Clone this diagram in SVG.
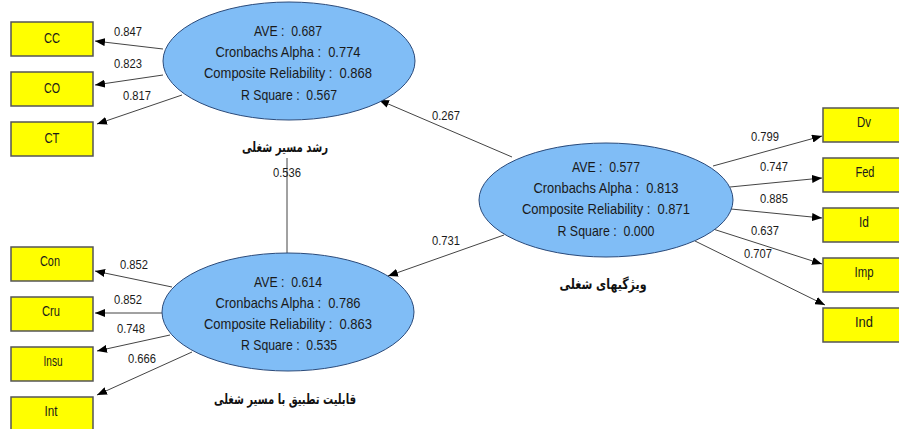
<svg xmlns="http://www.w3.org/2000/svg" width="899" height="429" viewBox="0 0 899 429">
<style>
.bg{fill:#ffffff}
.lv{fill:#80bdf6;stroke:#2a4a7a;stroke-width:1}
.box{fill:#ffff00;stroke:#555555;stroke-width:1.5}
.st{font-family:"Liberation Sans",Arial,sans-serif;font-size:15px;fill:#1a1a1a;text-anchor:middle;white-space:pre}
.bt{font-family:"Liberation Sans",Arial,sans-serif;font-size:14px;fill:#1a1a1a;text-anchor:middle}
.lb{font-family:"Liberation Sans",Arial,sans-serif;font-size:13px;fill:#1a1a1a;text-anchor:middle}
.ar{font-family:"DejaVu Sans",serif;font-size:14px;font-weight:bold;fill:#111;text-anchor:middle}
.cn{stroke:#444;stroke-width:1;fill:none}
</style>
<defs>
<marker id="ah" viewBox="0 0 10 8" refX="10" refY="4" markerWidth="10" markerHeight="8" markerUnits="userSpaceOnUse" orient="auto">
<path d="M0,0 L10,4 L0,8 z" fill="#000"/>
</marker>
</defs>
<rect class="bg" x="0" y="0" width="899" height="429"/>
<g id="connectors">
<line class="cn" x1="163" y1="49" x2="95" y2="41" marker-end="url(#ah)"/>
<line class="cn" x1="163" y1="75" x2="95" y2="85" marker-end="url(#ah)"/>
<line class="cn" x1="182" y1="95" x2="97" y2="124" marker-end="url(#ah)"/>
<line class="cn" x1="172" y1="287" x2="95" y2="271" marker-end="url(#ah)"/>
<line class="cn" x1="162" y1="313" x2="95" y2="313" marker-end="url(#ah)"/>
<line class="cn" x1="170" y1="335" x2="97" y2="351" marker-end="url(#ah)"/>
<line class="cn" x1="192" y1="352" x2="97" y2="395" marker-end="url(#ah)"/>
<line class="cn" x1="713" y1="166" x2="822" y2="136" marker-end="url(#ah)"/>
<line class="cn" x1="730" y1="187" x2="822" y2="178" marker-end="url(#ah)"/>
<line class="cn" x1="731" y1="209" x2="822" y2="218" marker-end="url(#ah)"/>
<line class="cn" x1="713" y1="229" x2="822" y2="264" marker-end="url(#ah)"/>
<line class="cn" x1="695" y1="241" x2="825" y2="305" marker-end="url(#ah)"/>
<line class="cn" x1="512" y1="157" x2="379" y2="100" marker-end="url(#ah)"/>
<line class="cn" x1="504" y1="235" x2="388" y2="276" marker-end="url(#ah)"/>
<line class="cn" x1="287" y1="158" x2="287" y2="254"/>
<text class="lb" x="128" y="36" textLength="28" lengthAdjust="spacingAndGlyphs">0.847</text>
<text class="lb" x="128" y="68" textLength="28" lengthAdjust="spacingAndGlyphs">0.823</text>
<text class="lb" x="137" y="100" textLength="28" lengthAdjust="spacingAndGlyphs">0.817</text>
<text class="lb" x="134" y="269" textLength="28" lengthAdjust="spacingAndGlyphs">0.852</text>
<text class="lb" x="128" y="304" textLength="28" lengthAdjust="spacingAndGlyphs">0.852</text>
<text class="lb" x="131" y="333" textLength="28" lengthAdjust="spacingAndGlyphs">0.748</text>
<text class="lb" x="142" y="363" textLength="28" lengthAdjust="spacingAndGlyphs">0.666</text>
<text class="lb" x="765" y="141" textLength="28" lengthAdjust="spacingAndGlyphs">0.799</text>
<text class="lb" x="774" y="171" textLength="28" lengthAdjust="spacingAndGlyphs">0.747</text>
<text class="lb" x="774" y="203" textLength="28" lengthAdjust="spacingAndGlyphs">0.885</text>
<text class="lb" x="765" y="235" textLength="28" lengthAdjust="spacingAndGlyphs">0.637</text>
<text class="lb" x="758" y="258" textLength="28" lengthAdjust="spacingAndGlyphs">0.707</text>
<text class="lb" x="446" y="120" textLength="28" lengthAdjust="spacingAndGlyphs">0.267</text>
<text class="lb" x="446" y="245" textLength="28" lengthAdjust="spacingAndGlyphs">0.731</text>
<text class="lb" x="287" y="177" textLength="28" lengthAdjust="spacingAndGlyphs">0.536</text>
</g>
<g id="lv-growth">
<ellipse class="lv" cx="289" cy="61" rx="126" ry="59"/>
<text class="st" x="288" y="36" textLength="68" lengthAdjust="spacingAndGlyphs">AVE :  0.687</text>
<text class="st" x="288" y="57" textLength="145" lengthAdjust="spacingAndGlyphs">Cronbachs Alpha :  0.774</text>
<text class="st" x="288" y="78" textLength="168" lengthAdjust="spacingAndGlyphs">Composite Reliability :  0.868</text>
<text class="st" x="289" y="100" textLength="96" lengthAdjust="spacingAndGlyphs">R Square :  0.567</text>
<text class="ar" x="285" y="152" textLength="86" lengthAdjust="spacingAndGlyphs">رشد مسیر شغلی</text>
</g>
<g id="lv-fit">
<ellipse class="lv" cx="288" cy="312" rx="126" ry="59"/>
<text class="st" x="288" y="287" textLength="68" lengthAdjust="spacingAndGlyphs">AVE :  0.614</text>
<text class="st" x="288" y="308" textLength="145" lengthAdjust="spacingAndGlyphs">Cronbachs Alpha :  0.786</text>
<text class="st" x="288" y="329" textLength="168" lengthAdjust="spacingAndGlyphs">Composite Reliability :  0.863</text>
<text class="st" x="289" y="350" textLength="96" lengthAdjust="spacingAndGlyphs">R Square :  0.535</text>
<text class="ar" x="285" y="404" textLength="142" lengthAdjust="spacingAndGlyphs">قابلیت تطبیق با مسیر شغلی</text>
</g>
<g id="lv-job">
<ellipse class="lv" cx="606" cy="200" rx="127" ry="57"/>
<text class="st" x="606" y="172" textLength="68" lengthAdjust="spacingAndGlyphs">AVE :  0.577</text>
<text class="st" x="606" y="193" textLength="145" lengthAdjust="spacingAndGlyphs">Cronbachs Alpha :  0.813</text>
<text class="st" x="606" y="214" textLength="168" lengthAdjust="spacingAndGlyphs">Composite Reliability :  0.871</text>
<text class="st" x="606" y="236" textLength="97" lengthAdjust="spacingAndGlyphs">R Square :  0.000</text>
<text class="ar" x="603" y="289" textLength="87" lengthAdjust="spacingAndGlyphs">ویژگیهای شغلی</text>
</g>
<g id="CC"><rect class="box" x="11" y="22" width="82" height="34"/><text class="bt" x="52" y="43" textLength="16" lengthAdjust="spacingAndGlyphs">CC</text></g>
<g id="CO"><rect class="box" x="11" y="72" width="82" height="34"/><text class="bt" x="52" y="93" textLength="16" lengthAdjust="spacingAndGlyphs">CO</text></g>
<g id="CT"><rect class="box" x="11" y="122" width="82" height="34"/><text class="bt" x="52" y="143" textLength="15" lengthAdjust="spacingAndGlyphs">CT</text></g>
<g id="Con"><rect class="box" x="11" y="247" width="82" height="34"/><text class="bt" x="50" y="266" textLength="20" lengthAdjust="spacingAndGlyphs">Con</text></g>
<g id="Cru"><rect class="box" x="11" y="297" width="82" height="34"/><text class="bt" x="51" y="316" textLength="18" lengthAdjust="spacingAndGlyphs">Cru</text></g>
<g id="Insu"><rect class="box" x="11" y="347" width="82" height="34"/><text class="bt" x="53" y="366" textLength="19" lengthAdjust="spacingAndGlyphs">Insu</text></g>
<g id="Int"><rect class="box" x="11" y="397" width="82" height="34"/><text class="bt" x="51" y="416" textLength="13" lengthAdjust="spacingAndGlyphs">Int</text></g>
<g id="Dv"><rect class="box" x="823" y="108" width="80" height="34"/><text class="bt" x="864" y="127" textLength="14" lengthAdjust="spacingAndGlyphs">Dv</text></g>
<g id="Fed"><rect class="box" x="823" y="158" width="80" height="34"/><text class="bt" x="865" y="177" textLength="19" lengthAdjust="spacingAndGlyphs">Fed</text></g>
<g id="Id"><rect class="box" x="823" y="208" width="80" height="34"/><text class="bt" x="864" y="227" textLength="10" lengthAdjust="spacingAndGlyphs">Id</text></g>
<g id="Imp"><rect class="box" x="823" y="258" width="80" height="34"/><text class="bt" x="864" y="277" textLength="19" lengthAdjust="spacingAndGlyphs">Imp</text></g>
<g id="Ind"><rect class="box" x="823" y="308" width="80" height="34"/><text class="bt" x="864" y="327" textLength="18" lengthAdjust="spacingAndGlyphs">Ind</text></g>
</svg>
